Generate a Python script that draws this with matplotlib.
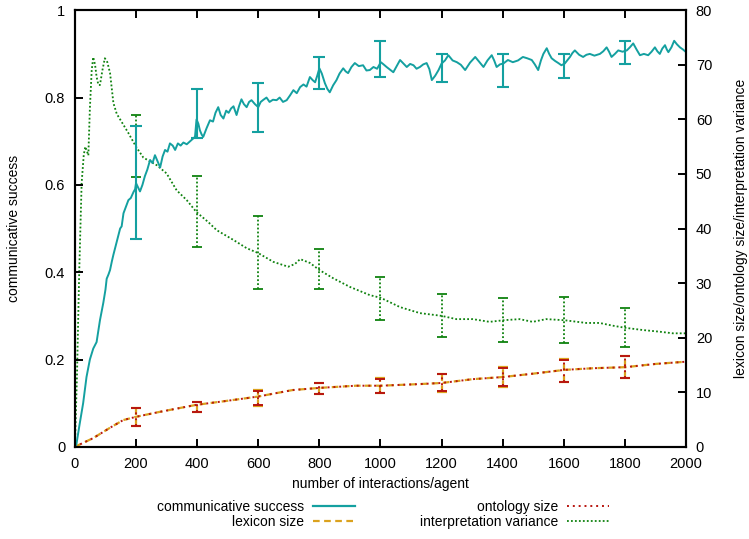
import matplotlib
matplotlib.use("Agg")
import matplotlib.pyplot as plt
from matplotlib.lines import Line2D

plt.rcParams["font.family"] = ["Liberation Sans", "DejaVu Sans"]
plt.rcParams["font.size"] = 10

# communicative success (left axis), noisy running average
CS_X = [0, 5, 15, 27, 38, 49, 60, 71, 82, 93, 100, 104, 110, 115, 121, 126, 137, 148, 153, 159,
        167, 175, 183, 192, 197, 200, 206, 213, 221, 229, 237, 246, 254, 262, 270, 279, 287, 295,
        303, 311, 320, 328, 337, 346, 355, 366, 377, 385, 393, 398, 404, 409, 415, 420, 431, 442,
        452, 460, 469, 477, 486, 495, 503, 511, 519, 524, 529, 537, 545, 553, 562, 570, 578, 589,
        600, 608, 617, 627, 637, 648, 660, 670, 681, 693, 704, 715, 726, 737, 748, 758, 769, 778,
        786, 793, 800, 808, 818, 826, 834, 845, 856, 866, 878, 886, 894, 905, 916, 929, 943, 954,
        965, 977, 989, 1001, 1010, 1020, 1031, 1042, 1053, 1064, 1075, 1086, 1097, 1108, 1118,
        1129, 1140, 1151, 1160, 1168, 1179, 1190, 1200, 1211, 1222, 1236, 1250, 1263, 1277, 1293,
        1310, 1323, 1337, 1350, 1364, 1372, 1380, 1391, 1402, 1417, 1433, 1450, 1466, 1480, 1495,
        1505, 1516, 1525, 1533, 1544, 1552, 1560, 1571, 1582, 1592, 1603, 1612, 1620, 1628, 1636,
        1650, 1663, 1674, 1685, 1700, 1718, 1729, 1740, 1748, 1756, 1767, 1778, 1792, 1806, 1816,
        1827, 1838, 1849, 1862, 1876, 1887, 1898, 1906, 1914, 1922, 1931, 1937, 1942, 1952, 1961,
        1970, 1980, 1990, 2000]
CS_Y = [0.0, 0.006, 0.05, 0.10, 0.16, 0.20, 0.225, 0.24, 0.29, 0.33, 0.36, 0.385, 0.395, 0.405, 0.425,
        0.44, 0.47, 0.50, 0.505, 0.535, 0.55, 0.565, 0.57, 0.584, 0.59, 0.604, 0.595, 0.585, 0.60,
        0.62, 0.635, 0.657, 0.65, 0.668, 0.655, 0.64, 0.665, 0.68, 0.676, 0.695, 0.69, 0.68, 0.695,
        0.69, 0.697, 0.693, 0.70, 0.705, 0.71, 0.75, 0.74, 0.725, 0.715, 0.71, 0.73, 0.748, 0.745,
        0.765, 0.778, 0.76, 0.752, 0.77, 0.765, 0.775, 0.78, 0.77, 0.76, 0.78, 0.796, 0.785, 0.778,
        0.79, 0.794, 0.785, 0.778, 0.79, 0.795, 0.80, 0.79, 0.795, 0.794, 0.80, 0.79, 0.794, 0.805,
        0.817, 0.81, 0.824, 0.83, 0.825, 0.847, 0.84, 0.835, 0.85, 0.867, 0.855, 0.833, 0.82, 0.812,
        0.828, 0.84, 0.855, 0.867, 0.86, 0.856, 0.87, 0.879, 0.872, 0.874, 0.862, 0.863, 0.87, 0.866,
        0.881, 0.876, 0.87, 0.864, 0.858, 0.872, 0.886, 0.878, 0.87, 0.877, 0.874, 0.866, 0.87, 0.876,
        0.879, 0.865, 0.84, 0.85, 0.863, 0.878, 0.885, 0.897, 0.885, 0.881, 0.875, 0.863, 0.88, 0.893,
        0.882, 0.87, 0.885, 0.897, 0.885, 0.87, 0.876, 0.878, 0.886, 0.881, 0.885, 0.893, 0.89, 0.886,
        0.876, 0.863, 0.885, 0.90, 0.913, 0.90, 0.89, 0.884, 0.879, 0.874, 0.878, 0.886, 0.893, 0.902,
        0.908, 0.898, 0.893, 0.898, 0.90, 0.896, 0.90, 0.906, 0.915, 0.905, 0.893, 0.90, 0.908, 0.905,
        0.908, 0.915, 0.924, 0.91, 0.897, 0.90, 0.897, 0.905, 0.915, 0.906, 0.90, 0.912, 0.92, 0.91,
        0.904, 0.915, 0.93, 0.922, 0.915, 0.91, 0.904]

# error bar positions shared by all series
EB_X = [200, 400, 600, 800, 1000, 1200, 1400, 1600, 1800]
CS_EB_Y = [0.604, 0.75, 0.778, 0.867, 0.881, 0.878, 0.878, 0.878, 0.908]
CS_EB_LO = [0.476, 0.707, 0.72, 0.82, 0.847, 0.835, 0.824, 0.845, 0.876]
CS_EB_HI = [0.735, 0.82, 0.833, 0.892, 0.929, 0.90, 0.90, 0.90, 0.929]

# lexicon size / ontology size (right axis)
LEX_X = [0, 11, 60, 115, 158, 200, 277, 342, 398, 494, 598, 712, 800, 920, 1001, 1129, 1200,
         1302, 1403, 1498, 1602, 1695, 1802, 1902, 2000]
LEX_Y = [0.0, 0.3, 1.6, 3.5, 4.9, 5.5, 6.4, 7.1, 7.7, 8.4, 9.2, 10.4, 10.8, 11.2, 11.2, 11.5, 11.7,
         12.4, 12.8, 13.4, 14.1, 14.4, 14.6, 15.2, 15.6]
LEX_EB_Y = [5.5, 7.7, 9.2, 10.8, 11.2, 11.7, 12.8, 14.1, 14.6]
LEX_EB_LO = [3.8, 6.4, 7.5, 9.7, 9.9, 10.1, 11.0, 11.9, 12.6]
LEX_EB_HI = [7.1, 8.2, 10.4, 11.7, 12.6, 13.4, 14.6, 16.1, 16.7]

ONT_X = LEX_X
ONT_Y = [0.0, 0.3, 1.6, 3.5, 4.9, 5.5, 6.4, 7.1, 7.7, 8.4, 9.2, 10.4, 10.8, 11.2, 11.2, 11.5, 11.7,
         12.4, 12.8, 13.4, 14.1, 14.4, 14.6, 15.2, 15.6]
ONT_EB_Y = [5.5, 7.7, 9.2, 10.8, 11.2, 11.7, 12.8, 14.1, 14.6]
ONT_EB_LO = [3.9, 6.4, 7.6, 9.7, 9.9, 10.2, 11.1, 11.9, 12.6]
ONT_EB_HI = [7.1, 8.2, 10.3, 11.7, 12.5, 13.3, 14.5, 16.0, 16.7]

# interpretation variance (right axis)
IV_X = [0, 7, 14, 22, 29, 34, 38, 44, 49, 55, 60, 66, 71, 77, 82, 90, 98, 106, 115, 126, 137, 148,
        175, 200, 224, 268, 300, 333, 366, 398, 436, 464, 519, 562, 600, 649, 698, 720, 737, 769,
        800, 845, 900, 965, 1001, 1064, 1129, 1200, 1248, 1302, 1357, 1403, 1455, 1498, 1542, 1602,
        1673, 1717, 1760, 1802, 1859, 1913, 1957, 2000]
IV_Y = [0.0, 13.5, 31.8, 48.3, 53.5, 55.0, 54.4, 53.4, 62.0, 69.0, 71.4, 70.0, 67.8, 66.3, 66.3,
        69.0, 71.2, 70.5, 68.5, 63.0, 61.0, 60.0, 57.5, 55.0, 53.0, 51.6, 50.1, 47.0, 45.2, 43.0,
        41.2, 39.7, 37.9, 36.4, 35.5, 33.9, 33.0, 33.5, 34.4, 33.7, 32.4, 30.9, 29.3, 27.8, 27.3,
        25.6, 24.5, 24.0, 23.4, 23.4, 22.9, 23.2, 23.4, 22.9, 23.4, 23.2, 22.7, 22.7, 22.2, 21.8,
        21.4, 21.1, 20.8, 20.8]
IV_EB_Y = [55.0, 43.0, 35.5, 32.4, 27.3, 24.0, 23.2, 23.2, 21.8]
IV_EB_LO = [49.5, 36.6, 29.0, 29.0, 23.2, 20.1, 19.2, 19.1, 18.3]
IV_EB_HI = [60.8, 49.6, 42.3, 36.2, 31.1, 28.0, 27.3, 27.5, 25.4]

X_TICKS = [0, 200, 400, 600, 800, 1000, 1200, 1400, 1600, 1800, 2000]
L_TICKS = [0, 0.2, 0.4, 0.6, 0.8, 1]
L_TICK_LABELS = ["0", "0.2", "0.4", "0.6", "0.8", "1"]
R_TICKS = [0, 10, 20, 30, 40, 50, 60, 70, 80]

C_CS = "#14a0a0"
C_LEX = "#dba21e"
C_ONT = "#b8150f"
C_IV = "#0f820f"


def _errbar(ax, y, lo, hi, color, ls, lw, cap):
    err = [[c - l for c, l in zip(y, lo)], [h - c for c, h in zip(y, hi)]]
    eb = ax.errorbar(EB_X, y, yerr=err, fmt="none", ecolor=color, elinewidth=lw,
                     capsize=cap, capthick=lw)
    eb[2][0].set_linestyle(ls)
    return eb


fig, ax = plt.subplots(figsize=(7.49, 5.39), dpi=100)
fig.subplots_adjust(left=0.1, right=0.916, top=0.981, bottom=0.171)
ax2 = ax.twinx()
ax.set_zorder(ax2.get_zorder() + 1)
ax.patch.set_visible(False)

# right-axis series
ax2.plot(LEX_X, LEX_Y, color=C_LEX, lw=1.6, ls=(0, (3, 2)))
_errbar(ax2, LEX_EB_Y, LEX_EB_LO, LEX_EB_HI, C_LEX, (0, (3, 2)), 1.6, 3.5)
ax2.plot(ONT_X, ONT_Y, color=C_ONT, lw=1.4, ls=(0, (1, 2)))
_errbar(ax2, ONT_EB_Y, ONT_EB_LO, ONT_EB_HI, C_ONT, (0, (1, 2)), 1.4, 3.5)
ax2.plot(IV_X, IV_Y, color=C_IV, lw=1.3, ls=(0, (1, 1.2)))
_errbar(ax2, IV_EB_Y, IV_EB_LO, IV_EB_HI, C_IV, (0, (1, 1.2)), 1.3, 3.5)

# left-axis series
ax.plot(CS_X, CS_Y, color=C_CS, lw=1.4)
_errbar(ax, CS_EB_Y, CS_EB_LO, CS_EB_HI, C_CS, "-", 1.5, 4)

ax.set_xlim(0, 2000)
ax.set_ylim(0, 1)
ax2.set_ylim(0, 80)
ax.set_xticks(X_TICKS)
ax.set_yticks(L_TICKS)
ax.set_yticklabels(L_TICK_LABELS)
ax2.set_yticks(R_TICKS)

ax.tick_params(direction="in", top=True, right=False, length=6, width=1.4, pad=7, labelsize=10.5)
ax2.tick_params(direction="in", length=6, width=1.4, pad=7, labelsize=10.5)
for a in (ax, ax2):
    for s in a.spines.values():
        s.set_linewidth(1.5)

ax.set_xlabel("number of interactions/agent", fontsize=10, labelpad=5)
ax.set_ylabel("communicative success", fontsize=10, labelpad=17)
ax2.set_ylabel("lexicon size/ontology size/interpretation variance", fontsize=10, labelpad=16)

handles = [
    Line2D([], [], color=C_CS, lw=1.6),
    Line2D([], [], color=C_LEX, lw=1.6, ls=(0, (3, 2))),
    Line2D([], [], color=C_ONT, lw=1.4, ls=(0, (1, 2))),
    Line2D([], [], color=C_IV, lw=1.3, ls=(0, (1, 1.2))),
]
labels = ["communicative success", "lexicon size", "ontology size", "interpretation variance"]
fig.legend(handles, labels, loc="center", bbox_to_anchor=(0.511, 0.046), ncol=2,
           frameon=False, markerfirst=False, fontsize=10, handlelength=3,
           handletextpad=0.65, columnspacing=4.7, labelspacing=0.05)

fig.savefig("out.png", dpi=100)
